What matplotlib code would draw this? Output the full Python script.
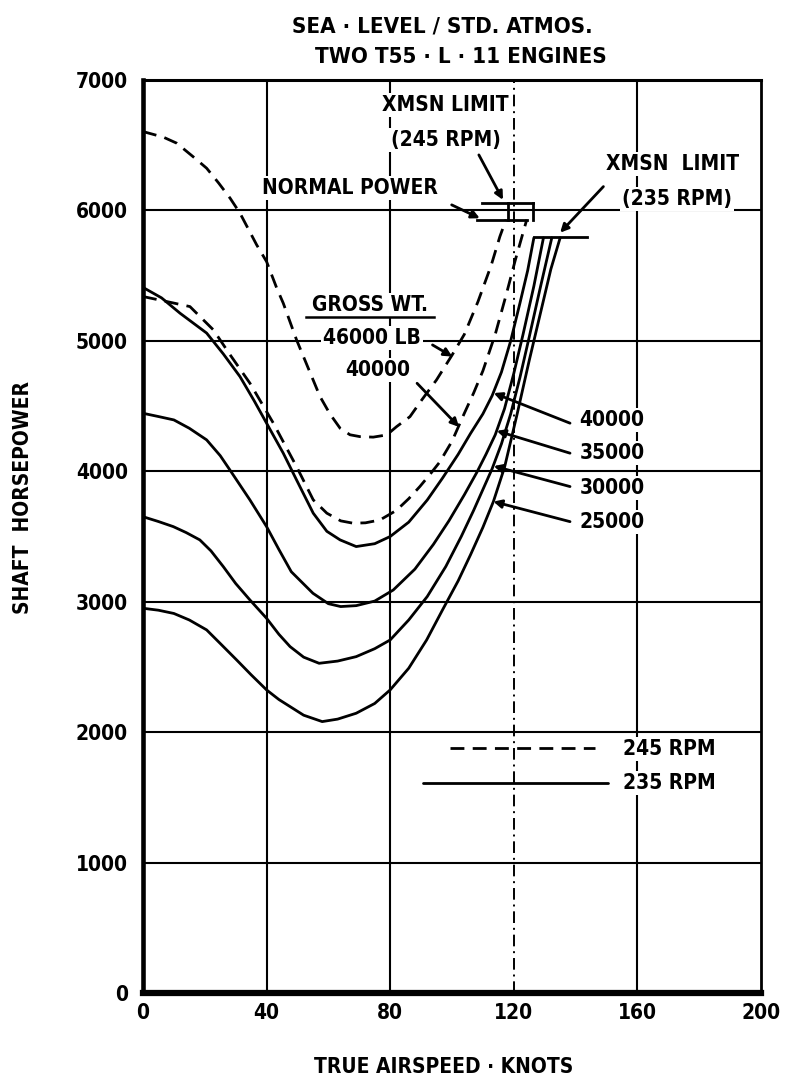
import matplotlib.pyplot as plt

plt.rcParams['font.family'] = ['DejaVu Sans']
plt.rcParams['font.weight'] = 'bold'
plt.rcParams['font.stretch'] = 'condensed'

# === DATA (true airspeed in knots, shaft horsepower) ===

# 235 RPM, solid curves
tas_40k = [0, 6, 12, 20.6, 26, 31.4, 36, 40, 45.4, 49.7, 55.1, 59.5, 63.8, 69, 75, 80, 86, 92, 97, 102, 106, 110, 113, 116, 119, 122, 124.5, 126.5]
shp_40k = [5410, 5330, 5212, 5060, 4900, 4726, 4540, 4369, 4139, 3934, 3679, 3540, 3474, 3423, 3445, 3500, 3610, 3780, 3950, 4130, 4290, 4440, 4580, 4760, 5000, 5290, 5540, 5790]

tas_35k = [0, 5, 10, 15, 20.6, 25, 28, 34.6, 40, 44, 48, 55, 60, 64, 69, 75, 81, 88, 94, 99, 104, 108, 111, 114, 117, 120, 123, 126.5, 129.6]
shp_35k = [4445, 4420, 4394, 4330, 4241, 4120, 4015, 3781, 3576, 3400, 3230, 3065, 2985, 2963, 2970, 3005, 3090, 3250, 3440, 3620, 3820, 3990, 4130, 4280, 4480, 4750, 5050, 5420, 5790]

tas_30k = [0, 5, 9.8, 14, 18.4, 22, 26, 30, 34.6, 40, 44, 47.6, 52, 57, 63, 69, 75, 80, 86, 92, 98, 103, 107, 110, 113, 116, 119, 122, 125, 128.5, 132.3]
shp_30k = [3652, 3615, 3576, 3530, 3474, 3390, 3269, 3140, 3014, 2873, 2750, 2656, 2575, 2528, 2545, 2579, 2640, 2707, 2860, 3040, 3270, 3500, 3700, 3860, 4020, 4210, 4440, 4720, 5030, 5400, 5790]

tas_25k = [0, 5, 10, 15, 20.6, 25, 30.3, 35, 40, 44, 47.6, 52, 58, 63, 69, 75, 80, 86, 91.8, 97, 102, 106, 110, 113.4, 117, 121, 125, 129, 132, 135]
shp_25k = [2950, 2935, 2910, 2860, 2784, 2680, 2554, 2440, 2324, 2250, 2196, 2130, 2081, 2100, 2145, 2220, 2324, 2490, 2707, 2940, 3160, 3360, 3570, 3768, 4030, 4430, 4850, 5250, 5550, 5790]

# 245 RPM, dashed curves
tas_46k_245 = [0, 6.6, 10.9, 16.8, 20.6, 24.5, 28.2, 31.4, 36.8, 40, 43.3, 45.4, 49.7, 53.5, 57.3, 60.5, 63.8, 67, 70.2, 74.5, 78.9, 82.1, 86.4, 90, 95, 100, 104, 108.4, 112.7, 115.5, 117.5]
shp_46k_245 = [6605, 6562, 6516, 6401, 6324, 6210, 6094, 5979, 5736, 5608, 5404, 5289, 5008, 4790, 4573, 4440, 4330, 4280, 4266, 4262, 4279, 4343, 4419, 4540, 4701, 4890, 5050, 5300, 5580, 5800, 5930]

tas_40k_245 = [0, 8, 15.2, 22.8, 28, 34.6, 42.2, 46, 49.7, 55.1, 59.5, 64, 68, 72, 76.7, 82, 86, 89.6, 93, 96, 100, 104, 107, 110, 114, 117.5, 120.5, 124.2]
shp_40k_245 = [5340, 5300, 5263, 5084, 4900, 4676, 4369, 4200, 4036, 3781, 3679, 3620, 3602, 3605, 3627, 3700, 3790, 3883, 3980, 4070, 4230, 4445, 4600, 4770, 5050, 5350, 5620, 5930]

# limits
xmsn_245_shp = 6056
xmsn_245_tas = [109.6, 126.3]
normal_power_shp = 5930
normal_power_tas = [108, 124.2]
xmsn_235_shp = 5795
xmsn_235_tas = [126.5, 143.6]

x_ticks = [0, 40, 80, 120, 160, 200]
y_ticks = [0, 1000, 2000, 3000, 4000, 5000, 6000, 7000]

# === FIGURE ===

fig = plt.figure(figsize=(7.89, 10.83), dpi=100)
ax = fig.add_axes([0.1812, 0.0831, 0.7833, 0.843])
ax.set_xlim(0, 200)
ax.set_ylim(0, 7000)

# grid
for y in y_ticks[1:-1]:
    ax.axhline(y, color='black', lw=1.5, zorder=1)
for x in [40, 80, 160]:
    ax.axvline(x, color='black', lw=1.5, zorder=1)
ax.axvline(120, color='black', lw=1.4, linestyle=(0, (6, 2.5, 1, 2.5)), zorder=1)

solido = dict(color='black', lw=2.0, zorder=3, solid_capstyle='round', solid_joinstyle='round')
tracejado = dict(color='black', lw=2.0, zorder=3, linestyle=(0, (5, 3)))

ax.plot(tas_40k, shp_40k, **solido)
ax.plot(tas_35k, shp_35k, **solido)
ax.plot(tas_30k, shp_30k, **solido)
ax.plot(tas_25k, shp_25k, **solido)
ax.plot(tas_46k_245, shp_46k_245, **tracejado)
ax.plot(tas_40k_245, shp_40k_245, **tracejado)

# limit lines
ax.plot(xmsn_245_tas, [xmsn_245_shp] * 2, color='black', lw=2, zorder=3)
ax.plot(normal_power_tas, [normal_power_shp] * 2, color='black', lw=2, zorder=3)
for xv in [118.2, 126.1]:
    ax.plot([xv, xv], [normal_power_shp, xmsn_245_shp], color='black', lw=2, zorder=3)
ax.plot(xmsn_235_tas, [xmsn_235_shp] * 2, color='black', lw=2, zorder=3)

# ticks and spines
ax.set_xticks(x_ticks)
ax.set_yticks(y_ticks)
ax.tick_params(length=0, labelsize=15)
ax.tick_params(axis='y', pad=11)
ax.tick_params(axis='x', pad=7)
for lbl in ax.get_xticklabels() + ax.get_yticklabels():
    lbl.set_fontweight('bold')
ax.spines['left'].set_linewidth(3.3)
ax.spines['bottom'].set_linewidth(4.5)
ax.spines['top'].set_linewidth(2.2)
ax.spines['right'].set_linewidth(2.0)

# === TEXT ===

fundo = dict(facecolor='white', edgecolor='none', pad=1.5)
fs = 15

fig.text(442 / 789, 1 - 26 / 1083, 'SEA · LEVEL / STD. ATMOS.', ha='center', va='center', fontsize=16)
fig.text(461 / 789, 1 - 57 / 1083, 'TWO T55 · L · 11 ENGINES', ha='center', va='center', fontsize=16)
fig.text(23 / 789, 1 - 497 / 1083, 'SHAFT  HORSEPOWER', rotation=90, ha='center', va='center', fontsize=15)
fig.text(444 / 789, 1 - 1067 / 1083, 'TRUE AIRSPEED · KNOTS', ha='center', va='center', fontsize=15)

ax.text(97.9, 6810, 'XMSN LIMIT', ha='center', va='center', fontsize=fs, bbox=fundo, zorder=4)
ax.text(97.9, 6541, '(245 RPM)', ha='center', va='center', fontsize=fs, bbox=fundo, zorder=4)
ax.text(67, 6173, 'NORMAL POWER', ha='center', va='center', fontsize=fs, bbox=fundo, zorder=4)
ax.text(171.4, 6357, 'XMSN  LIMIT', ha='center', va='center', fontsize=fs, bbox=fundo, zorder=4)
ax.text(172.8, 6089, '(235 RPM)', ha='center', va='center', fontsize=fs, bbox=fundo, zorder=4)

ax.text(73.5, 5276, 'GROSS WT.', ha='center', va='center', fontsize=fs, bbox=fundo, zorder=4)
ax.plot([52.8, 94.2], [5185, 5185], color='black', lw=1.8, zorder=5)
ax.text(74, 5023, '46000 LB', ha='center', va='center', fontsize=fs, bbox=fundo, zorder=4)
ax.text(76, 4778, '40000', ha='center', va='center', fontsize=fs, bbox=fundo, zorder=4)

rotulos_dir = ['40000', '35000', '30000', '25000']
rotulos_y = [4394, 4141, 3873, 3612]
for txt, yv in zip(rotulos_dir, rotulos_y):
    ax.text(141.2, yv, txt, ha='left', va='center', fontsize=fs, bbox=fundo, zorder=4)

ax.text(155.3, 1871, '245 RPM', ha='left', va='center', fontsize=fs, bbox=fundo, zorder=4)
ax.text(155.3, 1608, '235 RPM', ha='left', va='center', fontsize=fs, bbox=fundo, zorder=4)
ax.plot([99.3, 146.3], [1875, 1875], **tracejado)
ax.plot([90.6, 150.5], [1610, 1610], **solido)

# arrows
setas = [
    ((108.7, 6426), (116.5, 6081)),
    ((99.9, 6043), (109, 5940)),
    ((149, 6183), (135, 5830)),
    ((93.7, 4969), (100.1, 4880)),
    ((88.7, 4675), (102.3, 4340)),
    ((138.2, 4369), (113.5, 4600)),
    ((138.2, 4139), (114.5, 4310)),
    ((138.2, 3883), (113.5, 4040)),
    ((138.2, 3614), (113.4, 3768)),
]
for cauda, ponta in setas:
    ax.annotate('', xy=ponta, xytext=cauda,
                arrowprops=dict(arrowstyle='-|>', lw=2, color='black',
                                mutation_scale=12, shrinkA=0, shrinkB=0),
                zorder=5)

fig.savefig('out.png', dpi=100)
